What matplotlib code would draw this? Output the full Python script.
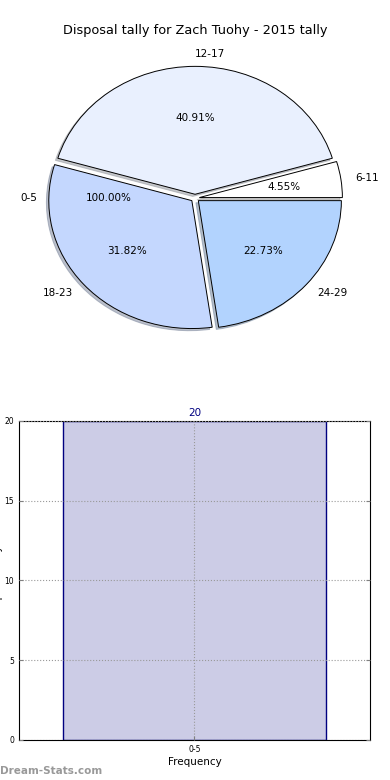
import numpy as np
import matplotlib
matplotlib.use("Agg")
import matplotlib.pyplot as plt

## Data
title = "Disposal tally for Zach Tuohy - 2015 tally"
pie_labels = ["6-11", "12-17", "18-23", "24-29"]
pie_counts = [1, 9, 7, 5]
pie_colors = ["#ffffff", "#e9f0fe", "#c4d7fe", "#b2d3fe"]
extra_label = ["0-5"]
extra_count = [1]

bar_cats = ["0-5"]
bar_vals = [20]
yticks = [0, 5, 10, 15, 20]

fig = plt.figure(figsize=(3.9, 7.8), dpi=100)

###################
## Pie chart ##
###################
ax = fig.add_axes([0.0417, 0.541, 0.917, 0.410])
ax.pie(extra_count, labels=extra_label, autopct="%.2f%%", startangle=0,
       colors=["none"], wedgeprops=dict(linewidth=0),
       textprops=dict(fontsize=7.5))
wedges, texts, autotexts = ax.pie(
  pie_counts, labels=pie_labels, autopct="%.2f%%", startangle=0,
  colors=pie_colors, explode=[0.03] * len(pie_counts),
  shadow=dict(ox=-0.012, oy=-0.012, shade=0.4),
  wedgeprops=dict(linewidth=0.7, edgecolor="black"),
  textprops=dict(fontsize=7.5))
texts[1].set_ha("left")  # label sits right at the top, keep it left-aligned
ax.set_aspect("auto")
ax.set_xlim(-1.25, 1.25)
ax.set_ylim(-1.25, 1.25)
fig.text(0.5, 0.961, title, ha="center", va="center", fontsize=9.3)

###################
## Bar chart ##
###################
ax2 = fig.add_axes([0.0487, 0.0513, 0.9, 0.409])
x = np.arange(len(bar_cats))
ax2.bar(x, bar_vals, width=0.75, color="#ccccE6", edgecolor="#000080", linewidth=1, zorder=2)
for xi, v in zip(x, bar_vals):
  ax2.text(xi, v + 0.2, str(v), ha="center", va="bottom", color="#000080", fontsize=7.5)
ax2.set_xlim(-0.5, 0.5)
ax2.set_ylim(0, 20)
ax2.set_xticks(x)
ax2.set_xticklabels(bar_cats)
ax2.set_yticks(yticks)
ax2.tick_params(labelsize=5.5, direction="in", length=3, color="gray", right=True, top=False)
ax2.grid(True, linestyle=":", color="#999999", linewidth=0.8, zorder=3)
ax2.set_axisbelow(False)
ax2.set_xlabel("Frequency", fontsize=7.5, labelpad=2)
ax2.set_ylabel("Disposal Tally", fontsize=7.5)
ax2.yaxis.set_label_coords(-0.046, 0.5)
for s in ax2.spines.values():
  s.set_linewidth(0.8)

fig.text(0.0, 0.012, "Dream-Stats.com", color="#999999", fontsize=7.5, fontweight="bold",
         ha="left", va="center")

fig.savefig("out.png", dpi=100)
